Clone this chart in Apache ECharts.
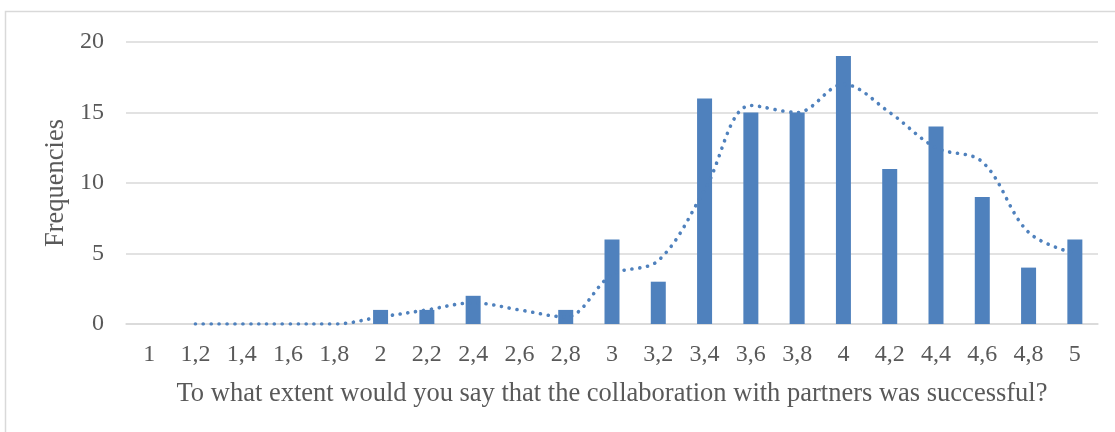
<!DOCTYPE html>
<html>
<head>
<meta charset="utf-8">
<script src="https://cdn.jsdelivr.net/npm/echarts@6/dist/echarts.min.js"></script>
<style>
  html, body { margin: 0; padding: 0; background: #fff; }
  #chart { width: 1115px; height: 432px; }
</style>
</head>
<body>
<div id="chart"></div>
<script>
// Response scale (1 to 5 in steps of 0.2), shown with decimal commas
const categories = ['1', '1,2', '1,4', '1,6', '1,8', '2', '2,2', '2,4', '2,6', '2,8',
                    '3', '3,2', '3,4', '3,6', '3,8', '4', '4,2', '4,4', '4,6', '4,8', '5'];

// Number of respondents per score
const frequencies = [0, 0, 0, 0, 0, 1, 1, 2, 0, 1, 6, 3, 16, 15, 15, 19, 11, 14, 9, 4, 6];

// Two-period moving average trendline (no value for the first category)
const trend = [null, 0, 0, 0, 0, 0.5, 1, 1.5, 1, 0.5, 3.5, 4.5, 9.5, 15.5, 15, 17, 15, 12.5, 11.5, 6.5, 5];

const yTicks = { min: 0, max: 20, interval: 5 };

const blue = '#4f81bd';
const textGray = '#595959';
const gridGray = '#d9d9d9';
const serif = '"Liberation Serif", "Times New Roman", serif';

const chart = echarts.init(document.getElementById('chart'), null, { renderer: 'canvas' });

chart.setOption({
  animation: false,
  backgroundColor: '#fff',
  graphic: [{
    type: 'rect',
    shape: { x: 5.5, y: 11.5, width: 1130, height: 440 },
    style: { fill: 'none', stroke: gridGray, lineWidth: 1.5 },
    silent: true
  }],
  grid: { left: 126, right: 17, top: 42, bottom: 108, containLabel: false },
  xAxis: {
    type: 'category',
    data: categories,
    boundaryGap: true,
    name: 'To what extent would you say that the collaboration with partners was successful?',
    nameLocation: 'middle',
    nameGap: 57,
    nameTextStyle: { fontFamily: serif, fontSize: 26.5, color: textGray },
    axisLine: { show: true, lineStyle: { color: gridGray, width: 1.5 } },
    axisTick: { show: false },
    axisLabel: {
      interval: 0, margin: 19,
      fontFamily: serif, fontSize: 24, color: textGray
    }
  },
  yAxis: {
    type: 'value',
    min: yTicks.min, max: yTicks.max, interval: yTicks.interval,
    name: 'Frequencies',
    nameLocation: 'middle',
    nameGap: 56,
    nameTextStyle: { fontFamily: serif, fontSize: 26.5, color: textGray },
    axisLine: { show: false },
    axisTick: { show: false },
    axisLabel: { margin: 22, fontFamily: serif, fontSize: 24, color: textGray },
    splitLine: { lineStyle: { color: gridGray, width: 1.5 } }
  },
  series: [
    {
      type: 'bar',
      data: frequencies,
      barWidth: 15,
      itemStyle: { color: blue },
      z: 2
    },
    {
      type: 'line',
      data: trend,
      smooth: 0.35,
      symbol: 'none',
      connectNulls: false,
      lineStyle: { color: blue, width: 3.6, type: [0.1, 7.8], cap: 'round' },
      z: 3
    }
  ]
});
</script>
</body>
</html>
